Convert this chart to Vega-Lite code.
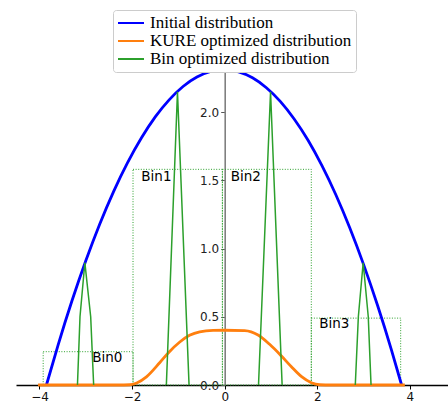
{
  "$schema": "https://vega.github.io/schema/vega-lite/v6.json",
  "width": 432,
  "height": 331,
  "autosize": {"type": "none"},
  "padding": {"left": 16, "top": 54, "right": 0, "bottom": 21},
  "background": "white",
  "config": {"view": {"stroke": null}},
  "datasets": {
    "curves": [
      {"series": "Initial distribution", "part": "b", "x": -3.85, "y": 0},
      {"series": "Initial distribution", "part": "b", "x": -3.6, "y": 0.291},
      {"series": "Initial distribution", "part": "b", "x": -3.3, "y": 0.615},
      {"series": "Initial distribution", "part": "b", "x": -3.0, "y": 0.91},
      {"series": "Initial distribution", "part": "b", "x": -2.7, "y": 1.178},
      {"series": "Initial distribution", "part": "b", "x": -2.4, "y": 1.417},
      {"series": "Initial distribution", "part": "b", "x": -2.1, "y": 1.627},
      {"series": "Initial distribution", "part": "b", "x": -1.8, "y": 1.809},
      {"series": "Initial distribution", "part": "b", "x": -1.5, "y": 1.964},
      {"series": "Initial distribution", "part": "b", "x": -1.2, "y": 2.089},
      {"series": "Initial distribution", "part": "b", "x": -0.9, "y": 2.187},
      {"series": "Initial distribution", "part": "b", "x": -0.6, "y": 2.256},
      {"series": "Initial distribution", "part": "b", "x": -0.3, "y": 2.297},
      {"series": "Initial distribution", "part": "b", "x": 0.0, "y": 2.31},
      {"series": "Initial distribution", "part": "b", "x": 0.3, "y": 2.294},
      {"series": "Initial distribution", "part": "b", "x": 0.6, "y": 2.251},
      {"series": "Initial distribution", "part": "b", "x": 0.9, "y": 2.178},
      {"series": "Initial distribution", "part": "b", "x": 1.2, "y": 2.078},
      {"series": "Initial distribution", "part": "b", "x": 1.5, "y": 1.949},
      {"series": "Initial distribution", "part": "b", "x": 1.8, "y": 1.793},
      {"series": "Initial distribution", "part": "b", "x": 2.1, "y": 1.607},
      {"series": "Initial distribution", "part": "b", "x": 2.4, "y": 1.394},
      {"series": "Initial distribution", "part": "b", "x": 2.7, "y": 1.152},
      {"series": "Initial distribution", "part": "b", "x": 3.0, "y": 0.882},
      {"series": "Initial distribution", "part": "b", "x": 3.3, "y": 0.584},
      {"series": "Initial distribution", "part": "b", "x": 3.6, "y": 0.258},
      {"series": "Initial distribution", "part": "b", "x": 3.82, "y": 0},
      {"series": "KURE optimized distribution", "part": "o", "x": -4.03, "y": 0},
      {"series": "KURE optimized distribution", "part": "o", "x": -2.3, "y": 0},
      {"series": "KURE optimized distribution", "part": "o", "x": -2.05, "y": 0.002},
      {"series": "KURE optimized distribution", "part": "o", "x": -1.9, "y": 0.015},
      {"series": "KURE optimized distribution", "part": "o", "x": -1.69, "y": 0.06},
      {"series": "KURE optimized distribution", "part": "o", "x": -1.4, "y": 0.165},
      {"series": "KURE optimized distribution", "part": "o", "x": -1.22, "y": 0.235},
      {"series": "KURE optimized distribution", "part": "o", "x": -0.97, "y": 0.315},
      {"series": "KURE optimized distribution", "part": "o", "x": -0.76, "y": 0.364},
      {"series": "KURE optimized distribution", "part": "o", "x": -0.54, "y": 0.39},
      {"series": "KURE optimized distribution", "part": "o", "x": -0.25, "y": 0.4},
      {"series": "KURE optimized distribution", "part": "o", "x": 0.0, "y": 0.401},
      {"series": "KURE optimized distribution", "part": "o", "x": 0.43, "y": 0.398},
      {"series": "KURE optimized distribution", "part": "o", "x": 0.72, "y": 0.366},
      {"series": "KURE optimized distribution", "part": "o", "x": 0.97, "y": 0.298},
      {"series": "KURE optimized distribution", "part": "o", "x": 1.22, "y": 0.214},
      {"series": "KURE optimized distribution", "part": "o", "x": 1.44, "y": 0.134},
      {"series": "KURE optimized distribution", "part": "o", "x": 1.66, "y": 0.061},
      {"series": "KURE optimized distribution", "part": "o", "x": 1.87, "y": 0.017},
      {"series": "KURE optimized distribution", "part": "o", "x": 2.05, "y": 0.002},
      {"series": "KURE optimized distribution", "part": "o", "x": 2.3, "y": 0},
      {"series": "KURE optimized distribution", "part": "o", "x": 3.89, "y": 0},
      {"series": "Bin optimized distribution", "part": "g0", "x": -3.18, "y": 0},
      {"series": "Bin optimized distribution", "part": "g0", "x": -3.125, "y": 0.5},
      {"series": "Bin optimized distribution", "part": "g0", "x": -3.02, "y": 0.896},
      {"series": "Bin optimized distribution", "part": "g0", "x": -2.894, "y": 0.5},
      {"series": "Bin optimized distribution", "part": "g0", "x": -2.83, "y": 0},
      {"series": "Bin optimized distribution", "part": "g1", "x": -1.26, "y": 0},
      {"series": "Bin optimized distribution", "part": "g1", "x": -1.02, "y": 2.149},
      {"series": "Bin optimized distribution", "part": "g1", "x": -0.77, "y": 0},
      {"series": "Bin optimized distribution", "part": "g2", "x": 0.73, "y": 0},
      {"series": "Bin optimized distribution", "part": "g2", "x": 0.99, "y": 2.149},
      {"series": "Bin optimized distribution", "part": "g2", "x": 1.24, "y": 0},
      {"series": "Bin optimized distribution", "part": "g3", "x": 2.82, "y": 0},
      {"series": "Bin optimized distribution", "part": "g3", "x": 2.886, "y": 0.5},
      {"series": "Bin optimized distribution", "part": "g3", "x": 2.99, "y": 0.896},
      {"series": "Bin optimized distribution", "part": "g3", "x": 3.1, "y": 0.5},
      {"series": "Bin optimized distribution", "part": "g3", "x": 3.16, "y": 0}
    ],
    "bins": [
      {"bin": "Bin0", "x0": -3.92, "x1": -1.98, "h": 0.244, "lx": -2.86, "ly": 0.171},
      {"bin": "Bin1", "x0": -1.98, "x1": -0.05, "h": 1.58, "lx": -1.8, "ly": 1.497},
      {"bin": "Bin2", "x0": -0.05, "x1": 1.87, "h": 1.58, "lx": 0.13, "ly": 1.497},
      {"bin": "Bin3", "x0": 1.87, "x1": 3.8, "h": 0.49, "lx": 2.04, "ly": 0.415}
    ]
  },
  "layer": [
    {
      "data": {"name": "bins"},
      "mark": {"type": "rect", "fillOpacity": 0, "stroke": "#2ca02c", "strokeWidth": 1, "strokeDash": [1, 1.6]},
      "encoding": {
        "x": {"field": "x0", "type": "quantitative", "scale": {"domain": [-4.507, 4.822], "nice": false, "zero": false},
          "axis": {"values": [-4, -2, 0, 2, 4], "title": null, "grid": false, "domainColor": "black", "domainWidth": 1.3, "tickColor": "black", "tickSize": 4, "tickWidth": 1, "labelFont": "DejaVu Sans", "labelFontSize": 12, "labelColor": "#111", "labelPadding": 2, "labelFlush": false, "zindex": 0}},
        "x2": {"field": "x1"},
        "y": {"field": "h", "type": "quantitative", "scale": {"domain": [0, 2.425], "nice": false},
          "axis": {"values": [0, 0.5, 1, 1.5, 2], "format": ".1f", "title": null, "grid": false, "offset": -208.7, "domainColor": "#808080", "domainWidth": 1.6, "tickColor": "#555", "tickSize": 4, "tickWidth": 1, "labelFont": "DejaVu Sans", "labelFontSize": 12, "labelColor": "#222", "labelPadding": 2, "zindex": 0}},
        "y2": {"datum": 0}
      }
    },
    {
      "data": {"name": "curves"},
      "transform": [{"filter": "datum.series == 'Initial distribution'"}],
      "mark": {"type": "line", "strokeWidth": 2.8, "interpolate": "monotone"},
      "encoding": {
        "x": {"field": "x", "type": "quantitative"},
        "y": {"field": "y", "type": "quantitative"},
        "color": {"field": "series", "type": "nominal",
          "scale": {"domain": ["Initial distribution", "KURE optimized distribution", "Bin optimized distribution"], "range": ["#0000ff", "#ff7f0e", "#2ca02c"]},
          "legend": {"title": null, "orient": "none", "legendX": 97, "legendY": -44, "symbolType": "stroke", "symbolStrokeWidth": 2, "symbolSize": 676, "clipHeight": 18, "labelFont": "Liberation Serif", "labelFontSize": 17, "labelColor": "black", "labelOffset": 5, "labelLimit": 400, "strokeColor": "#cccccc", "fillColor": "white", "padding": 4, "cornerRadius": 3, "rowPadding": 0}
        }
      }
    },
    {
      "data": {"name": "curves"},
      "transform": [{"filter": "datum.series == 'KURE optimized distribution'"}],
      "mark": {"type": "line", "strokeWidth": 2.8, "interpolate": "monotone"},
      "encoding": {
        "x": {"field": "x", "type": "quantitative"},
        "y": {"field": "y", "type": "quantitative"},
        "color": {"field": "series", "type": "nominal"}
      }
    },
    {
      "data": {"name": "curves"},
      "transform": [{"filter": "datum.series == 'Bin optimized distribution'"}],
      "mark": {"type": "line", "strokeWidth": 1.5},
      "encoding": {
        "x": {"field": "x", "type": "quantitative"},
        "y": {"field": "y", "type": "quantitative"},
        "detail": {"field": "part"},
        "color": {"field": "series", "type": "nominal"}
      }
    },
    {
      "data": {"name": "bins"},
      "mark": {"type": "text", "align": "left", "baseline": "alphabetic", "font": "DejaVu Sans", "fontSize": 13.5, "color": "black"},
      "encoding": {
        "x": {"field": "lx", "type": "quantitative"},
        "y": {"field": "ly", "type": "quantitative"},
        "text": {"field": "bin"}
      }
    }
  ]
}
